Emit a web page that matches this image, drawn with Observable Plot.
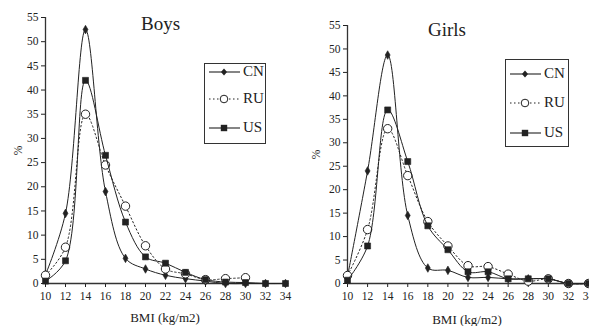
<!DOCTYPE html>
<html><head><meta charset="utf-8">
<script src="https://cdn.jsdelivr.net/npm/d3@7"></script>
<script src="https://cdn.jsdelivr.net/npm/@observablehq/plot@0.6"></script>
<style>
html,body{margin:0;padding:0;background:#fff;}
#wrap{position:relative;width:589px;height:326px;overflow:hidden;font-family:"Liberation Serif","DejaVu Serif",serif;color:#222;}
.panel{position:absolute;top:0;}
.title{position:absolute;font-size:19px;}
.xlab{position:absolute;font-size:13px;transform:translate(-50%,-50%);white-space:nowrap;}
.legend{position:absolute;border:1.3px solid #333;box-sizing:border-box;background:#fff;}
.lrow{position:absolute;left:4px;display:flex;align-items:center;font-size:15px;}
.lrow svg{margin-right:3px;}
</style></head><body>
<div id="wrap"></div>
<script>
const bmi = [10,12,14,16,18,20,22,24,26,28,30,32,34];
const xTicks = [10,12,14,16,18,20,22,24,26,28,30,32,34];
const yTicks = [0,5,10,15,20,25,30,35,40,45,50,55];
const seriesNames = ["CN","RU","US"];

const boysCN = [1.8,14.5,52.5,19,5.2,3,1.7,1,0.5,0,0,0,0];
const boysRU = [1.7,7.5,35,24.5,16,7.8,3,2,0.8,1,1.2,null,null];
const boysUS = [0.5,4.7,42,26.5,12.7,5.5,4.2,2.3,0.8,0.3,0.2,0,0];

const girlsCN = [1.5,24,48.7,14.5,3.3,2.8,1.3,1.3,1,1,1,0,0];
const girlsRU = [1.7,11.5,33,23,13.2,8,3.8,3.6,2,0.5,1,0,0];
const girlsUS = [0.7,8,37,26,12.3,7.2,2.5,2.5,1,1,1,0,0];

function rows(series){
  const out=[];
  seriesNames.forEach((s,i)=>{
    bmi.forEach((b,j)=>{ const v=series[i][j]; if(v!=null) out.push({s,bmi:b,v}); });
  });
  return out;
}

const styles = {
  CN:{dash:null, sym:"diamond", r:2.6, fill:"#222"},
  RU:{dash:"1.5,2.5", sym:"circle", r:4.2, fill:"white"},
  US:{dash:null, sym:"square", r:3.4, fill:"#222"}
};

function panel(data, opts){
  const marks = [
    Plot.ruleY([0],{stroke:"#333",strokeWidth:1.3}),
    Plot.ruleX([10],{stroke:"#333",strokeWidth:1.3}),
  ];
  for(const s of seriesNames){
    const d = data.filter(r=>r.s===s);
    const st = styles[s];
    marks.push(Plot.line(d,{x:"bmi",y:"v",curve:"catmull-rom",stroke:"#222",strokeWidth:1,strokeDasharray:st.dash}));
    marks.push(Plot.dot(d,{x:"bmi",y:"v",symbol:()=>st.sym,r:st.r,fill:st.fill,stroke:"#222",strokeWidth:st.fill==="white"?1:0.6}));
  }
  return Plot.plot({
    width:opts.width, height:326,
    marginLeft:opts.ml, marginRight:opts.mr, marginTop:opts.mt, marginBottom:43,
    style:{fontFamily:'"Liberation Serif","DejaVu Serif",serif',fontSize:"11.5px",color:"#222",background:"transparent",overflow:"visible"},
    x:{domain:[10,34],ticks:xTicks,tickSize:4,tickPadding:4,label:null},
    y:{domain:[0,55],ticks:yTicks,tickSize:4,tickPadding:3,label:"%",labelAnchor:"center",labelOffset:opts.lo,labelArrow:"none"},
    marks
  });
}

const wrap = document.getElementById("wrap");
function addPanel(left, width, svg){
  const d=document.createElement("div"); d.className="panel"; d.style.left=left+"px"; d.style.width=width+"px";
  d.appendChild(svg); wrap.appendChild(d);
}
addPanel(0,295,panel(rows([boysCN,boysRU,boysUS]),{width:295,ml:45,mr:10,mt:17,lo:32}));
addPanel(295,310,panel(rows([girlsCN,girlsRU,girlsUS]),{width:310,ml:52,mr:17,mt:25,lo:36}));

function title(text,left,top){const t=document.createElement("div");t.className="title";t.textContent=text;t.style.left=left+"px";t.style.top=top+"px";wrap.appendChild(t);}
title("Boys",141,13);
title("Girls",428,19);

function xlab(text,cx,cy){const t=document.createElement("div");t.className="xlab";t.textContent=text;t.style.left=cx+"px";t.style.top=cy+"px";wrap.appendChild(t);}
xlab("BMI (kg/m2)",165,318);
xlab("BMI (kg/m2)",467,320);

function legend(left,top,w,h,rowsY){
  const b=document.createElement("div"); b.className="legend";
  b.style.left=left+"px"; b.style.top=top+"px"; b.style.width=w+"px"; b.style.height=h+"px";
  seriesNames.forEach((s,i)=>{
    const st=styles[s];
    const r=document.createElement("div"); r.className="lrow"; r.style.top=(rowsY[i]-10)+"px";
    let sym="";
    if(st.sym==="diamond") sym=`<path d="M15,1.5 L18,5 L15,8.5 L12,5Z" fill="#222"/>`;
    if(st.sym==="circle") sym=`<circle cx="15" cy="5" r="3.8" fill="white" stroke="#222" stroke-width="1"/>`;
    if(st.sym==="square") sym=`<rect x="11.8" y="1.8" width="6.4" height="6.4" fill="#222"/>`;
    r.innerHTML=`<svg width="31" height="10"><line x1="0" y1="5" x2="31" y2="5" stroke="#222" stroke-width="1.1" ${st.dash?`stroke-dasharray="${st.dash}"`:""}/>${sym}</svg><span>${s}</span>`;
    b.appendChild(r);
  });
  wrap.appendChild(b);
}
legend(204,63,62,81,[9,36,65]);
legend(505,59,64,88,[15,44,74]);
</script>
</body></html>
